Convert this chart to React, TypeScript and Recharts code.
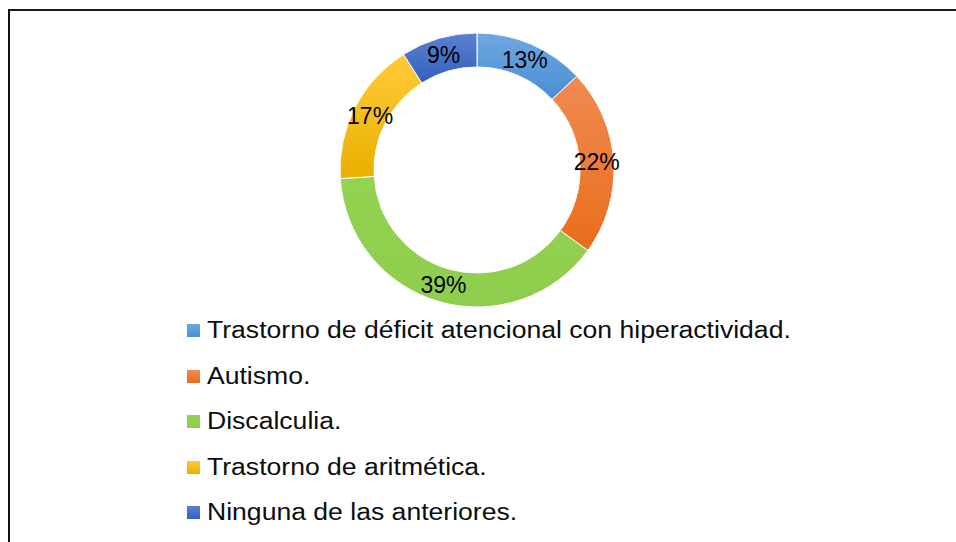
import React from "react";
import { PieChart, Pie, Cell, Legend } from "recharts";

const categories = [
  "Trastorno de déficit atencional con hiperactividad.",
  "Autismo.",
  "Discalculia.",
  "Trastorno de aritmética.",
  "Ninguna de las anteriores.",
];
const percentages = [13, 22, 39, 17, 9];

// top / bottom colours of each slice gradient
const topColors = ["#6EA8E0", "#F18B52", "#94D252", "#FFCA3A", "#5C80D0"];
const bottomColors = ["#4A8ED3", "#E86D1C", "#8FCE4D", "#E9B000", "#3261BE"];

const data = categories.map((name, i) => ({ name, value: percentages[i] }));

const RAD = Math.PI / 180;
const FONT = "'Liberation Sans', Arial, sans-serif";

const renderLabel = (props: any) => {
  const { cx, cy, midAngle, innerRadius, outerRadius, value } = props;
  const r = (innerRadius + outerRadius) / 2;
  const x = cx + r * Math.cos(-midAngle * RAD);
  const y = cy + r * Math.sin(-midAngle * RAD);
  return (
    <text
      x={x}
      y={y}
      fill="#000"
      fontSize={23}
      fontFamily={FONT}
      textAnchor="middle"
      dominantBaseline="central"
    >
      {`${value}%`}
    </text>
  );
};

// legend text in the original is a little wider than the plain font
const LegendBox = () => (
  <div style={{ fontFamily: FONT, fontSize: 23, color: "#0d0d0d" }}>
    {categories.map((name, i) => (
      <div
        key={name}
        style={{ height: 45.5, display: "flex", alignItems: "center", whiteSpace: "nowrap" }}
      >
        <span
          style={{
            display: "inline-block",
            width: 13,
            height: 13,
            marginRight: 7,
            background: `linear-gradient(${topColors[i]}, ${bottomColors[i]})`,
          }}
        />
        <span
          style={{
            display: "inline-block",
            transform: "scaleX(1.155)",
            transformOrigin: "left center",
          }}
        >
          {name}
        </span>
      </div>
    ))}
  </div>
);

export default function App() {
  return (
    <div
      style={{
        position: "absolute",
        left: 8,
        top: 9,
        width: 948,
        height: 533,
        borderTop: "2px solid #1a1a1a",
        borderLeft: "2px solid #111",
        background: "#fff",
        overflow: "hidden",
      }}
    >
      <PieChart width={946} height={531} margin={{ top: 0, right: 0, bottom: 0, left: 0 }}>
        <defs>
          {topColors.map((c, i) => (
            <linearGradient key={i} id={`slice${i}`} x1="0" y1="0" x2="0" y2="1">
              <stop offset="0%" stopColor={c} />
              <stop offset="100%" stopColor={bottomColors[i]} />
            </linearGradient>
          ))}
        </defs>
        <Pie
          data={data}
          dataKey="value"
          nameKey="name"
          cx={467}
          cy={159}
          innerRadius={103}
          outerRadius={137}
          startAngle={90}
          endAngle={-270}
          stroke="#ffffff"
          strokeWidth={1}
          label={renderLabel}
          labelLine={false}
          isAnimationActive={false}
        >
          {data.map((d, i) => (
            <Cell key={d.name} fill={`url(#slice${i})`} />
          ))}
        </Pie>
        <Legend
          layout="vertical"
          content={<LegendBox />}
          wrapperStyle={{ left: 177, top: 297, width: "auto", bottom: "auto" }}
        />
      </PieChart>
    </div>
  );
}
